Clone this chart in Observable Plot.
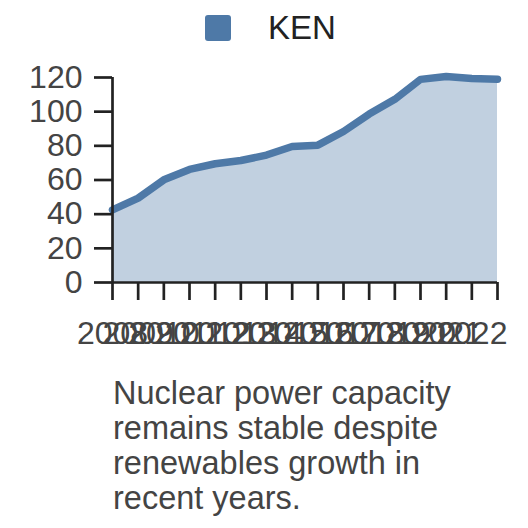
<!DOCTYPE html>
<html>
<head>
<meta charset="utf-8">
<script src="https://cdn.jsdelivr.net/npm/d3@7"></script>
<script src="https://cdn.jsdelivr.net/npm/@observablehq/plot@0.6"></script>
<style>
  body { margin: 0; background: #fff; font-family: "Liberation Sans", Arial, sans-serif; }
  #legend { height: 55px; display: flex; align-items: center; padding-left: 205px; box-sizing: border-box; }
  #legend .sw { width: 26px; height: 26px; border-radius: 3px; background: #4e79a7; margin-right: 37px; }
  #legend .lab { font-size: 33px; color: #222; line-height: 1; }
  #caption { margin: 21px 0 0 113px; width: 385px; font-size: 32.5px; line-height: 35px; color: #444; }
</style>
</head>
<body>
<div id="legend"></div>
<div id="chart"></div>
<div id="caption"></div>
<script>
const seriesName = "KEN";
const years = [2008, 2009, 2010, 2011, 2012, 2013, 2014, 2015, 2016, 2017, 2018, 2019, 2020, 2021, 2022, 2023];
const values = [42.5, 49.4, 60.1, 66.2, 69.5, 71.4, 74.6, 79.6, 80.4, 88.4, 98.6, 107.2, 118.9, 120.6, 119.4, 119.0];
const xTickLabels = ["2008", "2009", "2010", "2011", "2012", "2013", "2014", "2015", "2016", "2017", "2018", "2019", "2020", "2021", "2022"];
const yTicks = [0, 20, 40, 60, 80, 100, 120];
const captionText = "Nuclear power capacity remains stable despite renewables growth in recent years.";
const color = "#4e79a7";

const data = years.map((year, i) => ({year, value: values[i]}));
const labelYears = xTickLabels.map(Number);

document.getElementById("legend").innerHTML =
  `<div class="sw"></div><div class="lab">${seriesName}</div>`;
document.getElementById("caption").textContent = captionText;

const chart = Plot.plot({
  width: 528,
  height: 300,
  marginLeft: 112,
  marginRight: 31,
  marginTop: 22,
  marginBottom: 73,
  style: {fontSize: "32px", fontFamily: "'Liberation Sans', Arial, sans-serif", color: "#444", background: "#fff"},
  x: {domain: [years[0], years[years.length - 1]]},
  y: {domain: [0, 120]},
  marks: [
    Plot.areaY(data, {x: "year", y: "value", fill: color, fillOpacity: 0.35}),
    Plot.lineY(data, {x: "year", y: "value", stroke: color, strokeWidth: 7.5}),
    Plot.ruleX([years[0]], {stroke: "#222", strokeWidth: 2.7}),
    Plot.ruleY([0], {stroke: "#222", strokeWidth: 2.7}),
    Plot.axisX({ticks: years, tickFormat: () => "", tickSize: 18, stroke: "#222", strokeWidth: 2.7, label: null}),
    Plot.axisX({ticks: labelYears, tickFormat: (d, i) => xTickLabels[i], tickSize: 0, tickPadding: 39, fill: "#444", label: null}),
    Plot.axisY({ticks: yTicks, tickSize: 18, tickPadding: 12, stroke: "#222", strokeWidth: 2.7, fill: "#444", label: null})
  ]
});
document.getElementById("chart").appendChild(chart);
</script>
</body>
</html>
